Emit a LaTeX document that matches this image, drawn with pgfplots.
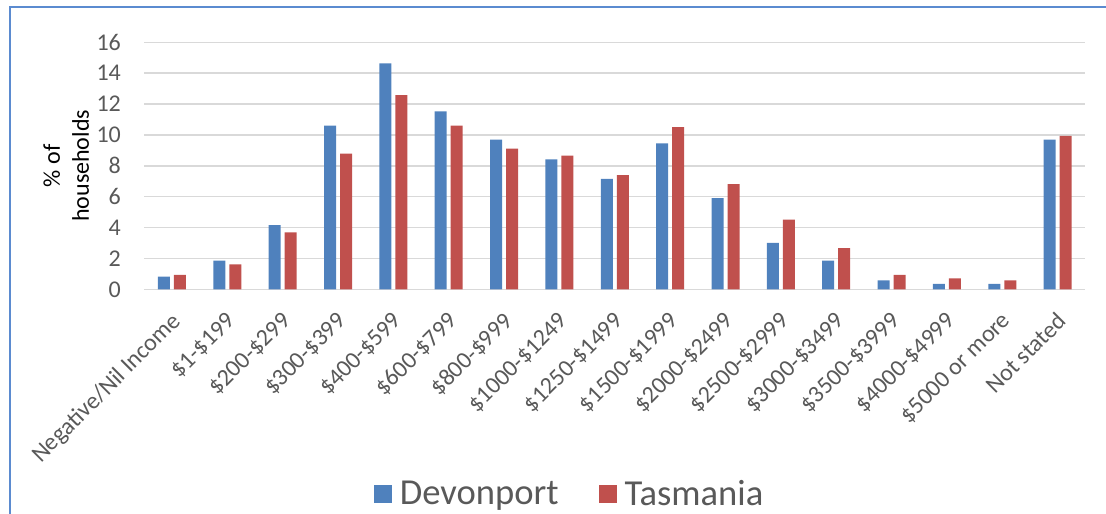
\documentclass[border=0pt]{standalone}
\usepackage{pgfplots}
\pgfplotsset{compat=1.18}
\usepackage{fontspec}
\setmainfont{Carlito}
\definecolor{dev}{HTML}{4F81BD}
\definecolor{tas}{HTML}{C0504D}
\definecolor{txt}{HTML}{595959}
\definecolor{gridc}{HTML}{D9D9D9}
\definecolor{framec}{HTML}{5B8BD0}
\begin{document}
\begin{tikzpicture}
\useasboundingbox (0,0) rectangle (553pt,256.5pt);
\draw[framec, line width=1pt] (5pt,-5pt) -- (5pt,252.75pt) -- (560pt,252.75pt);
\begin{axis}[
  at={(72.15pt,111.85pt)}, anchor=south west,
  scale only axis, width=470.5pt, height=123.5pt,
  xmin=-0.5, xmax=16.5, ymin=0, ymax=16,
  ybar=2pt, bar width=6pt,
  axis line style={draw=none},
  ytick={0,2,...,16}, ymajorgrids,
  grid style={gridc, line width=0.75pt},
  major tick length=0pt,
  xtick={0,...,16},
  xticklabels={Negative/Nil Income,\$1-\$199,\$200-\$299,\$300-\$399,\$400-\$599,\$600-\$799,\$800-\$999,\$1000-\$1249,\$1250-\$1499,\$1500-\$1999,\$2000-\$2499,\$2500-\$2999,\$3000-\$3499,\$3500-\$3999,\$4000-\$4999,\$5000 or more,Not stated},
  xticklabel style={xshift=-1pt, yshift=-10.5pt, rotate=45, anchor=north east, inner sep=0pt, font=\fontsize{12}{15}\selectfont, text=txt},
  yticklabel style={anchor=east, inner sep=0pt, xshift=-11.5pt, font=\fontsize{12}{14}\selectfont, text=txt},
  /pgf/number format/assume math mode=true,
  ylabel={\% of\\households},
  every axis y label/.style={at={(axis description cs:-0.083,0.5)}, rotate=90, anchor=center, align=center, font=\fontsize{12}{14.5}\selectfont, text=black},
  legend style={at={(0.453,-0.83)}, anchor=center, draw=none, fill=none, legend columns=2,
    font=\fontsize{18.3}{20}\selectfont, text=txt,
    /tikz/every odd column/.append style={column sep=2pt},
    /tikz/every even column/.append style={column sep=18pt}},
  legend image code/.code={\fill[#1] (0pt,-4.5pt) rectangle (9pt,4.5pt);},
]
\addplot[draw=none, fill=dev] coordinates {
(0,0.82) (1,1.86) (2,4.15) (3,10.6) (4,14.64) (5,11.53) (6,9.70) (7,8.42) (8,7.15)
(9,9.46) (10,5.90) (11,3.0) (12,1.86) (13,0.58) (14,0.35) (15,0.35) (16,9.70)};
\addlegendentry{Devonport}
\addplot[draw=none, fill=tas] coordinates {
(0,0.93) (1,1.62) (2,3.69) (3,8.79) (4,12.57) (5,10.6) (6,9.11) (7,8.66) (8,7.39)
(9,10.5) (10,6.82) (11,4.51) (12,2.66) (13,0.93) (14,0.71) (15,0.58) (16,9.94)};
\addlegendentry{Tasmania}
\end{axis}
\end{tikzpicture}
\end{document}
